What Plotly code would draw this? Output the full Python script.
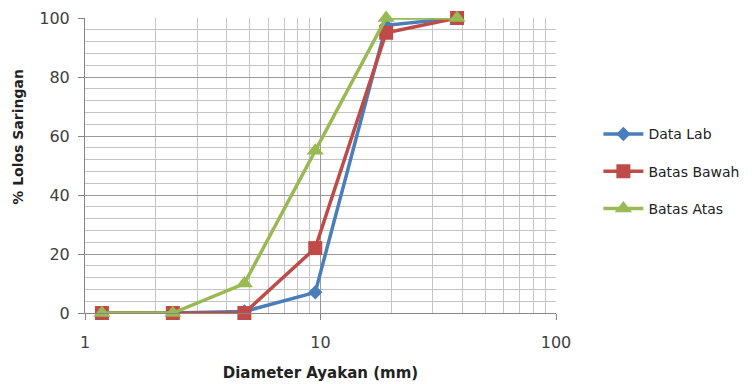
import plotly.graph_objects as go

diameter = [1.18, 2.36, 4.75, 9.5, 19, 38]
data_lab = [0, 0, 0.5, 7, 97.5, 100]
batas_bawah = [0, 0, 0, 22, 95, 100]
batas_atas = [0, 0, 10, 55, 100, 100]

series = [
    ("Data Lab", data_lab, "#4A7EBB", "diamond", 11),
    ("Batas Bawah", batas_bawah, "#BE4B48", "square", 14),
    ("Batas Atas", batas_atas, "#98B954", "triangle-up", 15),
]

fig = go.Figure()
for i, (name, vals, color, sym, size) in enumerate(series):
    fig.add_trace(go.Scatter(
        x=diameter, y=vals, name=name, mode="lines+markers",
        legendgroup=f"g{i}",
        line=dict(color=color, width=3.5),
        marker=dict(symbol=sym, size=size, color=color),
        cliponaxis=False,
    ))

font_family = "DejaVu Sans, Verdana, sans-serif"
# page body has an 8px default offset; margins compensate
fig.update_layout(
    width=754, height=384,
    margin=dict(l=77, r=206, t=10, b=79, autoexpand=False),
    paper_bgcolor="white", plot_bgcolor="white",
    font=dict(family=font_family, size=15, color="#404040"),
    showlegend=True,
    legend=dict(x=1.09, y=0.48, xanchor="left", yanchor="middle",
                font=dict(size=14, color="#222"), tracegroupgap=16,
                itemwidth=40, bgcolor="rgba(0,0,0,0)"),
    xaxis=dict(
        type="log", range=[0, 2], dtick=1,
        showgrid=True, gridcolor="#9a9a9a", gridwidth=1,
        minor=dict(dtick="D1", showgrid=True, gridcolor="#c4c4c4", gridwidth=1, ticks=""),
        showline=True, linecolor="#868686", linewidth=1,
        ticks="outside", ticklen=6, tickcolor="#868686",
        ticklabelstandoff=9,
        tickfont=dict(size=16, color="#404040"),
        title=dict(text="<b>Diameter Ayakan (mm)</b>", font=dict(size=15, color="#222"), standoff=16),
        zeroline=False, automargin=False,
    ),
    yaxis=dict(
        range=[0, 100], dtick=20,
        showgrid=True, gridcolor="#9a9a9a", gridwidth=1,
        minor=dict(dtick=4, showgrid=True, gridcolor="#c4c4c4", gridwidth=1, ticks=""),
        showline=True, linecolor="#868686", linewidth=1,
        ticks="outside", ticklen=6, tickcolor="#868686",
        ticklabelstandoff=5,
        tickfont=dict(size=16, color="#404040"),
        zeroline=False, automargin=False,
    ),
    annotations=[dict(
        text="<b>% Lolos Saringan</b>", textangle=-90,
        xref="paper", yref="paper", x=-0.144, y=0.598,
        xanchor="center", yanchor="middle", showarrow=False,
        font=dict(size=14, color="#222"),
    )],
)
fig.write_html("out.html")
